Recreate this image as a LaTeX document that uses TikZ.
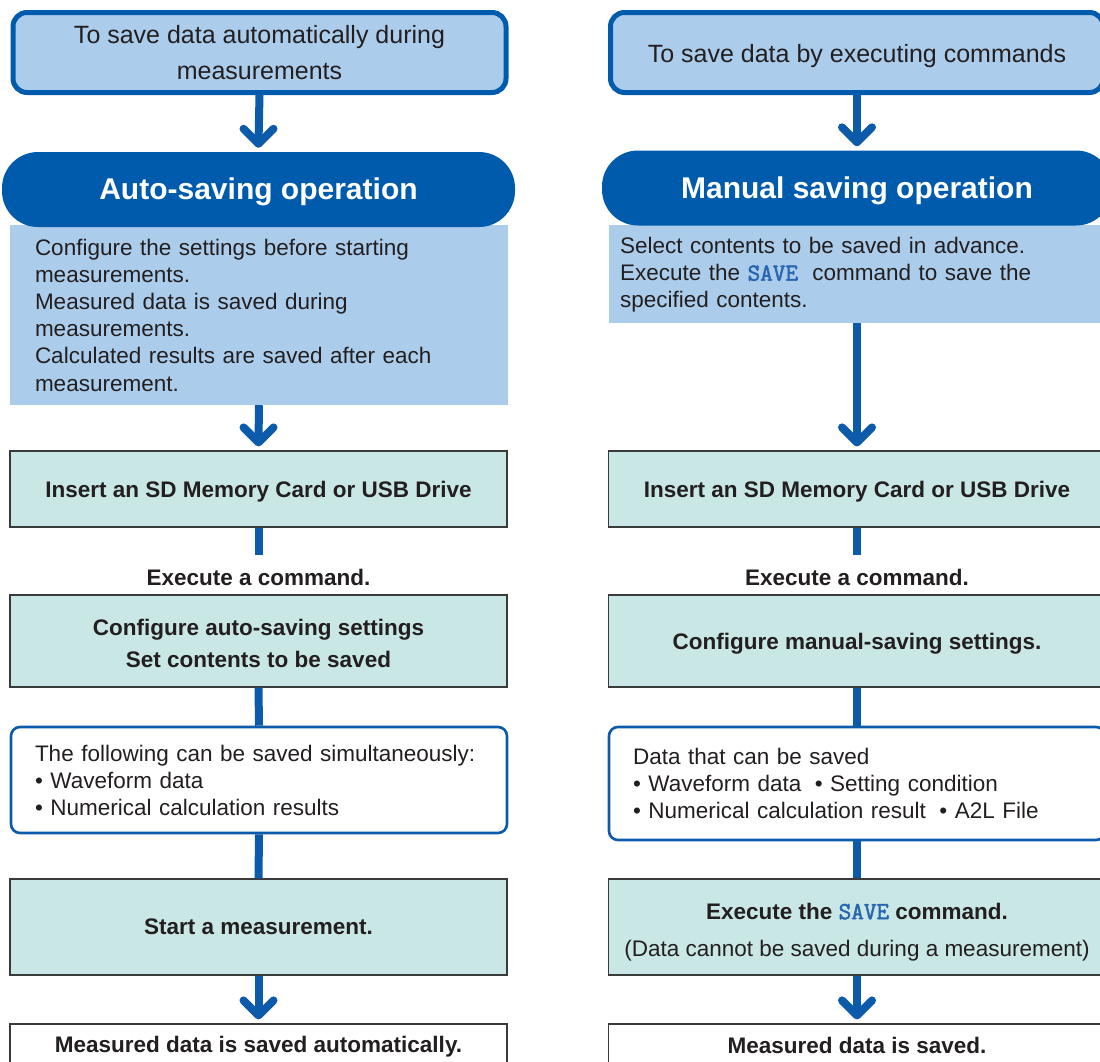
\documentclass[tikz,border=0pt]{standalone}
\usepackage{fontspec}
\setmainfont{Liberation Sans}
\newfontfamily\savefont{Latin Modern Mono}[FakeBold=2.2]
\usetikzlibrary{calc}
\definecolor{dblue}{HTML}{005BAC}
\definecolor{lblue}{HTML}{ABCDEB}
\definecolor{tealfill}{HTML}{C9E7E5}
\definecolor{ablue}{HTML}{0B5BAA}
\definecolor{txt}{HTML}{231F20}
\definecolor{cmdblue}{HTML}{2A66B0}
\definecolor{edge}{HTML}{3A3A3A}
\newcommand{\cmdsave}{{\savefont\fontsize{24.5}{27}\selectfont\color{cmdblue}SAVE}}
\newcommand{\low}[2]{\raisebox{-#1}[0pt][0pt]{#2}}
\newcommand{\flowarrow}[2]{%
  \draw[conn] (#1.south) -- ([yshift=8pt]#2.north);
  \draw[chev] ([xshift=-15pt,yshift=23pt]#2.north) -- ([yshift=8pt]#2.north) -- ([xshift=15pt,yshift=23pt]#2.north);}
\begin{document}
\begin{tikzpicture}[x=1pt,y=-1pt,
  every node/.style={text=txt},
  topbox/.style={draw=dblue, line width=5pt, fill=lblue, rounded corners=14pt,
    minimum height=80pt, font=\fontsize{25}{36}\selectfont, align=center, inner sep=0pt},
  pill/.style={fill=dblue, rounded corners=36pt, minimum height=75pt, text=white,
    font=\fontsize{30}{36}\bfseries\selectfont, inner sep=0pt},
  desc/.style={fill=lblue, font=\fontsize{22.5}{27.2}\selectfont, align=left, inner ysep=0pt},
  tealbox/.style={draw=edge, line width=1.2pt, fill=tealfill, minimum width=497pt,
    font=\fontsize{22.5}{32}\bfseries\selectfont, align=center, inner sep=0pt},
  listbox/.style={draw=ablue, line width=2.6pt, fill=white, rounded corners=9pt,
    font=\fontsize{22.5}{27}\selectfont, align=left, inner ysep=0pt},
  endbox/.style={draw=edge, line width=1.2pt, fill=white, minimum width=497pt,
    font=\fontsize{22.5}{27}\bfseries\selectfont, inner sep=0pt},
  plain/.style={font=\fontsize{22.5}{27}\bfseries\selectfont, inner xsep=0pt, inner ysep=14pt},
  conn/.style={draw=ablue, line width=8pt},
  chev/.style={draw=ablue, line width=8pt, line cap=round, line join=round}
]
\useasboundingbox (0,0) rectangle (1100,1061);
\clip (0,0) rectangle (1100,1061);
\fill[white] (0,0) rectangle (1100,1061);

% ---------------- left column ----------------
\node[topbox, minimum width=493pt] (topL) at (259.5,52.5) {To save data automatically during\\measurements};
\node[desc, minimum width=498pt, minimum height=180pt, text width=448pt, inner xsep=25pt] (descL) at (259,315)
  {Configure the settings before starting\\measurements.\\Measured data is saved during\\measurements.\\Calculated results are saved after each\\measurement.};
\node[pill, minimum width=513pt] (pillL) at (258.5,189.5) {\low{9.8pt}{Auto-saving operation}};
\node[tealbox, minimum height=76pt] (insL) at (258.5,489) {\low{8.8pt}{Insert an SD Memory Card or USB Drive}};
\node[plain] (execL) at (258.5,577) {Execute a command.};
\node[tealbox, minimum height=92pt] (cfgL) at (258.5,641) {\rule{0pt}{20.4pt}Configure auto-saving settings\\Set contents to be saved};
\node[listbox, minimum width=496pt, minimum height=106pt, text width=448pt, inner xsep=24pt] (listL) at (259,780)
  {The following can be saved simultaneously:\\\textbullet{} Waveform data\\\textbullet{} Numerical calculation results};
\node[tealbox, minimum height=96pt] (startL) at (258.5,927) {Start a measurement.};
\node[endbox, minimum height=46pt] (measL) at (258.5,1047) {Measured data is saved automatically.};

\flowarrow{topL}{pillL}
\flowarrow{descL}{insL}
\draw[conn] (insL.south) -- (execL.north);
\draw[conn] (cfgL.south) -- (listL.north);
\draw[conn] (listL.south) -- (startL.north);
\flowarrow{startL}{measL}

% ---------------- right column ----------------
\node[topbox, minimum width=493pt] (topR) at (857,52.5) {\low{9.5pt}{To save data by executing commands}};
\node[desc, minimum width=496pt, minimum height=98pt, text width=474pt, inner xsep=11pt] (descR) at (857,274)
  {\rule{0pt}{18pt}Select contents to be saved in advance.\\Execute the \cmdsave\hspace{0.3em} command to save the\\specified contents.};
\node[pill, minimum width=510pt] (pillR) at (857,188) {\low{10.8pt}{Manual saving operation}};
\node[tealbox, minimum height=76pt] (insR) at (857,489) {\low{8.8pt}{Insert an SD Memory Card or USB Drive}};
\node[plain] (execR) at (857,577) {Execute a command.};
\node[tealbox, minimum height=92pt] (cfgR) at (857,641) {\low{8.8pt}{Configure manual-saving settings.}};
\node[listbox, minimum width=496pt, minimum height=113pt, text width=448pt, inner xsep=24pt] (listR) at (857,783.5)
  {Data that can be saved\\\textbullet{} Waveform data\hspace{0.6em}\textbullet{} Setting condition\\\textbullet{} Numerical calculation result\hspace{0.6em}\textbullet{} A2L File};
\node[tealbox, minimum height=96pt] (saveR) at (857,927)
  {\rule{0pt}{26pt}Execute the \cmdsave{} command.\\[5pt]{\mdseries(Data cannot be saved during a measurement)}};
\node[endbox, minimum height=46pt] (measR) at (857,1047) {\low{6.2pt}{Measured data is saved.}};

\flowarrow{topR}{pillR}
\flowarrow{descR}{insR}
\draw[conn] (insR.south) -- (execR.north);
\draw[conn] (cfgR.south) -- (listR.north);
\draw[conn] (listR.south) -- (saveR.north);
\flowarrow{saveR}{measR}
\end{tikzpicture}
\end{document}
